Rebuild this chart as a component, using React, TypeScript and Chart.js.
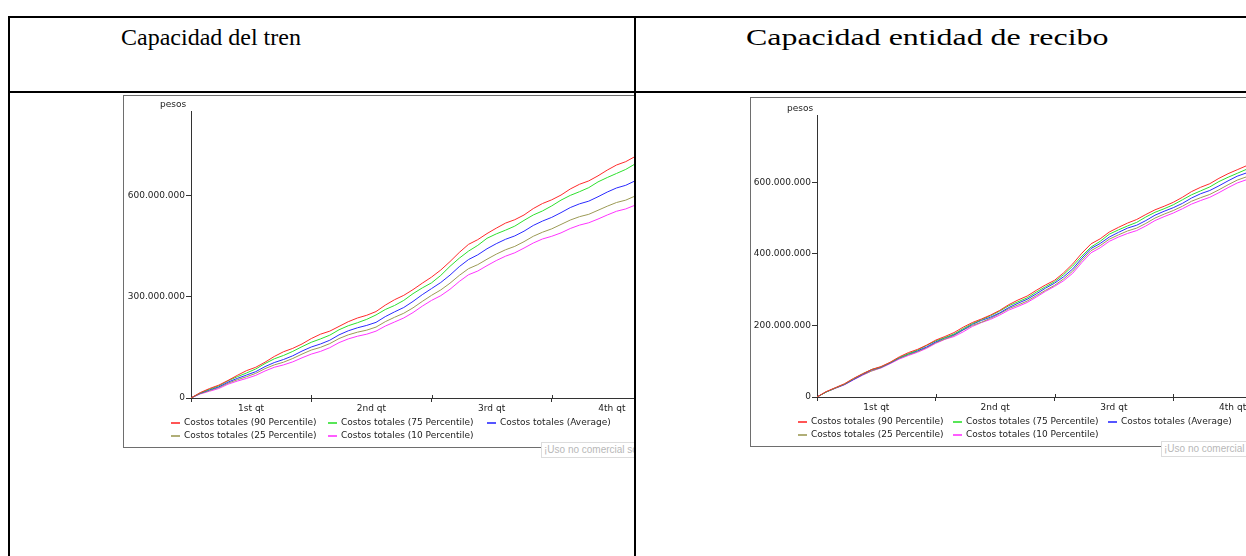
import React, { useEffect, useRef } from 'react';
import { Chart, registerables } from 'chart.js';

Chart.register(...registerables);

// ---- data (values in millions of pesos, x in weeks) ----
const WEEKS = [
  0, 1, 2, 3, 4, 5, 6, 7, 8, 9, 10, 11, 12, 13, 14, 15, 16, 17, 18, 19, 20, 21, 22, 23, 24, 25, 26,
  27, 28, 29, 30, 31, 32, 33, 34, 35, 36, 37, 38, 39, 40, 41, 42, 43, 44, 45, 46, 47, 48, 49, 50, 51, 52,
];

const TREN_P90 = [0, 16, 28, 38, 52, 67, 81, 91, 106, 123, 137, 147, 160, 176, 189, 198, 212, 226, 237, 245, 256, 275, 291, 304, 321, 340, 358, 379, 404, 431, 455, 469, 487, 503, 518, 528, 542, 561, 576, 587, 601, 619, 633, 643, 658, 675, 690, 700, 715, 733, 747, 758, 772];
const TREN_P75 = [0, 15, 26, 36, 51, 63, 74, 86, 102, 116, 126, 138, 152, 165, 175, 186, 202, 214, 223, 233, 246, 262, 274, 289, 309, 326, 341, 363, 390, 414, 435, 452, 473, 486, 497, 509, 526, 542, 554, 569, 586, 600, 611, 623, 640, 653, 665, 677, 693, 707, 717, 729, 744];
const TREN_AVG = [0, 14, 24, 33, 47, 58, 68, 78, 93, 105, 114, 125, 139, 151, 160, 171, 187, 199, 208, 215, 224, 241, 255, 268, 286, 306, 324, 342, 364, 389, 410, 424, 442, 457, 470, 480, 494, 511, 524, 535, 549, 564, 575, 583, 596, 610, 622, 630, 643, 657, 668, 678, 691];
const TREN_P25 = [0, 13, 22, 31, 44, 54, 63, 73, 87, 98, 106, 117, 130, 142, 150, 161, 176, 187, 195, 201, 210, 226, 239, 251, 267, 286, 304, 320, 340, 363, 383, 395, 411, 426, 439, 449, 463, 479, 491, 501, 514, 527, 537, 544, 556, 568, 579, 586, 598, 611, 621, 630, 641];
const TREN_P10 = [0, 12, 20, 28, 41, 50, 58, 67, 80, 91, 98, 107, 119, 130, 138, 149, 164, 175, 183, 189, 198, 213, 225, 237, 253, 272, 289, 303, 322, 345, 365, 376, 392, 407, 420, 430, 444, 459, 471, 479, 489, 502, 512, 519, 530, 542, 553, 560, 571, 584, 593, 601, 612];

const RECIBO_P90 = [0, 15, 26, 37, 52, 65, 77, 85, 97, 112, 124, 133, 145, 159, 169, 180, 195, 208, 218, 229, 242, 258, 271, 282, 298, 313, 326, 347, 372, 402, 428, 442, 461, 474, 486, 496, 510, 523, 533, 544, 558, 574, 586, 596, 611, 624, 635, 646, 661, 675, 685, 697, 711];
const RECIBO_P75 = [0, 14, 25, 36, 51, 65, 77, 84, 96, 110, 121, 131, 144, 157, 166, 176, 191, 205, 216, 227, 240, 255, 266, 277, 293, 308, 322, 342, 366, 394, 419, 435, 455, 467, 478, 488, 503, 516, 526, 537, 551, 565, 576, 587, 602, 614, 625, 636, 652, 665, 675, 687, 701];
const RECIBO_AVG = [0, 14, 25, 35, 49, 63, 76, 83, 95, 109, 120, 129, 140, 154, 165, 174, 188, 203, 214, 223, 235, 250, 262, 273, 288, 304, 318, 336, 358, 388, 415, 429, 447, 460, 472, 480, 493, 508, 519, 529, 541, 556, 568, 577, 590, 604, 617, 626, 640, 655, 667, 678, 691];
const RECIBO_P25 = [0, 14, 25, 35, 49, 62, 73, 82, 95, 108, 118, 127, 138, 152, 162, 172, 187, 200, 209, 220, 233, 247, 257, 268, 283, 298, 312, 330, 352, 382, 409, 423, 441, 453, 464, 472, 485, 500, 511, 521, 533, 547, 557, 566, 579, 593, 606, 615, 629, 644, 656, 666, 679];
const RECIBO_P10 = [0, 14, 24, 34, 48, 61, 73, 81, 93, 106, 116, 125, 136, 150, 161, 169, 182, 197, 208, 217, 229, 243, 253, 264, 279, 295, 309, 325, 346, 376, 403, 417, 435, 447, 457, 465, 478, 493, 504, 514, 526, 539, 549, 558, 571, 585, 598, 607, 621, 636, 647, 658, 671];

const SERIES_NAMES = [
  'Costos totales (90 Percentile)',
  'Costos totales (75 Percentile)',
  'Costos totales (Average)',
  'Costos totales (25 Percentile)',
  'Costos totales (10 Percentile)',
];
const SERIES_COLORS = ['#ff2a2a', '#2ee02e', '#2a2aff', '#9c9a55', '#ff33ff'];

const QUARTER_LABELS = ['1st qt', '2nd qt', '3rd qt', '4th qt'];
const X_TICK_POSITIONS = [0, 6.5, 13, 19.5, 26, 32.5, 39, 45.5, 52];
const X_MARK_POSITIONS = [13, 26, 39, 52];

const TREN_Y_TICKS = [0, 300, 600];
const TREN_Y_LABELS = ['0', '300.000.000', '600.000.000'];
const RECIBO_Y_TICKS = [0, 200, 400, 600];
const RECIBO_Y_LABELS = ['0', '200.000.000', '400.000.000', '600.000.000'];

const TITLES = ['Capacidad del tren', 'Capacidad entidad de recibo'];
const Y_UNIT = 'pesos';
const WATERMARK = '¡Uso no comercial solamente!';

const FONT = '"DejaVu Sans", Verdana, sans-serif';
const TEXT = '#222';

// tick marks that cross into the plot area a little, like the original
const crossTicks = {
  id: 'crossTicks',
  afterDraw(chart: any) {
    const { ctx, chartArea, scales } = chart;
    ctx.save();
    ctx.strokeStyle = '#333';
    ctx.lineWidth = 1;
    ctx.beginPath();
    X_MARK_POSITIONS.forEach((v) => {
      const x = Math.round(scales.x.getPixelForValue(v)) + 0.5;
      ctx.moveTo(x, chartArea.bottom - 3);
      ctx.lineTo(x, chartArea.bottom);
    });
    ctx.stroke();
    ctx.restore();
  },
};

type PanelProps = {
  left: number;
  top: number;
  width: number;
  height: number;
  padTop: number;
  padRight: number;
  yWidth: number;
  yMax: number;
  yTicks: number[];
  yLabels: string[];
  series: number[][];
  legendOffsets: number[];
  legendRows: number[];
  unitX: number;
  unitY: number;
  wmX: number;
  wmY: number;
};

function Panel(p: PanelProps) {
  const ref = useRef<HTMLCanvasElement | null>(null);
  useEffect(() => {
    if (!ref.current) return;
    const chart = new Chart(ref.current, {
      type: 'line',
      data: {
        datasets: p.series.map((vals, i) => ({
          label: SERIES_NAMES[i],
          data: WEEKS.map((w, k) => ({ x: w, y: vals[k] })),
          borderColor: SERIES_COLORS[i],
          backgroundColor: SERIES_COLORS[i],
          borderWidth: 1,
          pointRadius: 0,
          tension: 0,
          fill: false,
        })),
      },
      options: {
        animation: false,
        responsive: false,
        devicePixelRatio: 1,
        layout: { padding: { top: p.padTop, right: p.padRight, left: 0, bottom: 0 } },
        plugins: { legend: { display: false }, tooltip: { enabled: false } },
        scales: {
          x: {
            type: 'linear',
            min: 0,
            max: 52,
            afterBuildTicks: (s: any) => {
              s.ticks = X_TICK_POSITIONS.map((v) => ({ value: v }));
            },
            afterFit: (s: any) => {
              s.height = 49;
            },
            border: { display: true, color: '#333', width: 1 },
            grid: {
              drawOnChartArea: false,
              drawTicks: true,
              tickLength: 4,
              tickColor: (ctx: any) =>
                ctx.tick && ctx.tick.value % 13 === 0 ? '#333' : 'rgba(0,0,0,0)',
            },
            ticks: {
              autoSkip: false,
              maxRotation: 0,
              padding: 1,
              color: TEXT,
              font: { family: FONT, size: 9 },
              callback: (v: any) => {
                const q = (Number(v) - 6.5) / 13;
                return Number.isInteger(q) ? QUARTER_LABELS[q] : '';
              },
            },
          },
          y: {
            type: 'linear',
            min: 0,
            max: p.yMax,
            afterBuildTicks: (s: any) => {
              s.ticks = p.yTicks.map((v) => ({ value: v }));
            },
            afterFit: (s: any) => {
              s.width = p.yWidth;
            },
            border: { display: true, color: '#333', width: 1 },
            grid: { drawOnChartArea: false, drawTicks: true, tickLength: 5, tickColor: '#333' },
            ticks: {
              padding: 1,
              color: TEXT,
              font: { family: FONT, size: 9 },
              callback: (v: any) => {
                const i = p.yTicks.indexOf(Number(v));
                return i >= 0 ? p.yLabels[i] : '';
              },
            },
          },
        },
      },
      plugins: [crossTicks],
    });
    return () => chart.destroy();
  }, []);

  const legendItem = (i: number, x: number, y: number) => (
    <React.Fragment key={i}>
      <div
        style={{
          position: 'absolute',
          left: x,
          top: y - 1,
          width: 9,
          height: 2,
          background: SERIES_COLORS[i],
          opacity: 0.8,
        }}
      />
      <div
        style={{
          position: 'absolute',
          left: x + 13,
          top: y - 6,
          height: 12,
          lineHeight: '12px',
          whiteSpace: 'nowrap',
          font: `9px ${FONT}`,
          color: TEXT,
        }}
      >
        {SERIES_NAMES[i]}
      </div>
    </React.Fragment>
  );

  return (
    <>
      <div
        style={{
          position: 'absolute',
          left: p.left,
          top: p.top,
          width: p.width,
          height: p.height,
          border: '1px solid #6e6e6e',
          boxSizing: 'border-box',
          background: '#fff',
        }}
      >
        <canvas ref={ref} width={p.width - 2} height={p.height - 2} style={{ display: 'block' }} />
      </div>
      <div
        style={{
          position: 'absolute',
          left: p.unitX,
          top: p.unitY - 6,
          font: `9px ${FONT}`,
          color: TEXT,
          whiteSpace: 'nowrap',
        }}
      >
        {Y_UNIT}
      </div>
      {SERIES_NAMES.map((_, i) =>
        legendItem(i, p.left + p.legendOffsets[i % 3], p.legendRows[i < 3 ? 0 : 1])
      )}
      <div
        style={{
          position: 'absolute',
          left: p.wmX,
          top: p.wmY,
          height: 14,
          padding: '0 2px',
          border: '1px solid #dcdcdc',
          background: '#fff',
          color: '#b8b8b8',
          font: '10px "Liberation Sans", Arial, sans-serif',
          lineHeight: '14px',
          whiteSpace: 'nowrap',
        }}
      >
        {WATERMARK}
      </div>
    </>
  );
}

export default function App() {
  const line = '#000';
  return (
    <div
      style={{
        position: 'fixed',
        left: 0,
        top: 0,
        width: 1246,
        height: 556,
        overflow: 'hidden',
        background: '#fff',
      }}
    >
      {/* left cell (clipped) */}
      <div style={{ position: 'absolute', left: 0, top: 0, width: 634, height: 556, overflow: 'hidden' }}>
        <Panel
          left={123}
          top={95}
          width={576}
          height={353}
          padTop={15}
          padRight={26}
          yWidth={67}
          yMax={850}
          yTicks={TREN_Y_TICKS}
          yLabels={TREN_Y_LABELS}
          series={[TREN_P90, TREN_P75, TREN_AVG, TREN_P25, TREN_P10]}
          legendOffsets={[48, 205, 364]}
          legendRows={[423, 436]}
          unitX={160}
          unitY={105}
          wmX={541}
          wmY={442}
        />
      </div>
      {/* right cell (clipped by window) */}
      <div style={{ position: 'absolute', left: 636, top: 0, width: 610, height: 556, overflow: 'hidden' }}>
        <div style={{ position: 'absolute', left: -636, top: 0 }}>
          <Panel
            left={750}
            top={97}
            width={602}
            height={350}
            padTop={17}
            padRight={59}
            yWidth={66}
            yMax={788}
            yTicks={RECIBO_Y_TICKS}
            yLabels={RECIBO_Y_LABELS}
            series={[RECIBO_P90, RECIBO_P75, RECIBO_AVG, RECIBO_P25, RECIBO_P10]}
            legendOffsets={[48, 203, 358]}
            legendRows={[422, 435]}
            unitX={787}
            unitY={109}
            wmX={1161}
            wmY={441}
          />
        </div>
      </div>

      {/* table lines */}
      <div style={{ position: 'absolute', left: 8, top: 16, width: 1238, height: 2, background: line }} />
      <div style={{ position: 'absolute', left: 8, top: 91, width: 1238, height: 2, background: line }} />
      <div style={{ position: 'absolute', left: 8, top: 16, width: 2, height: 540, background: line }} />
      <div style={{ position: 'absolute', left: 634, top: 16, width: 2, height: 540, background: line }} />

      {/* titles */}
      <div
        style={{
          position: 'absolute',
          left: 121,
          top: 24,
          font: '24px "Liberation Serif", "Times New Roman", serif',
          color: '#000',
          whiteSpace: 'nowrap',
        }}
      >
        {TITLES[0]}
      </div>
      <div
        style={{
          position: 'absolute',
          left: 746,
          top: 24,
          font: '24px "Liberation Serif", "Times New Roman", serif',
          color: '#000',
          whiteSpace: 'nowrap',
          transformOrigin: '0 50%',
          transform: 'scaleX(1.33)',
        }}
      >
        {TITLES[1]}
      </div>
    </div>
  );
}
